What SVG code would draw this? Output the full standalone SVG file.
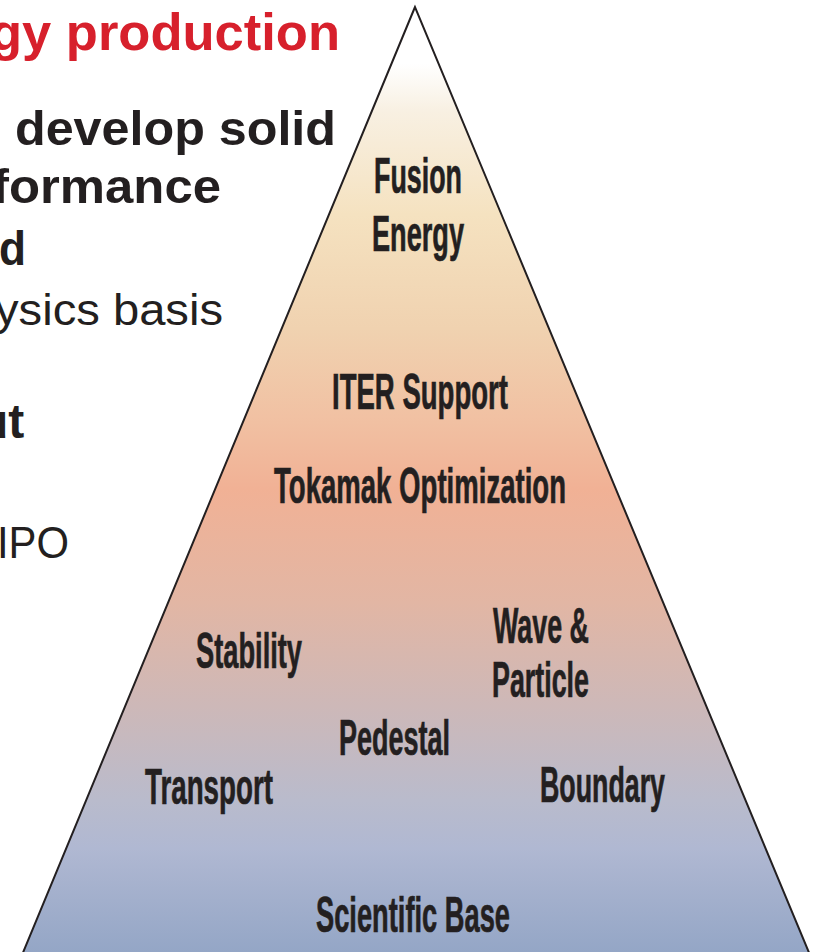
<svg xmlns="http://www.w3.org/2000/svg" width="815" height="952" viewBox="0 0 815 952">
  <defs>
    <!-- vertical colour ramp of the pyramid: white tip, sand, salmon, mauve, steel blue base -->
    <linearGradient id="pyramidFill" gradientUnits="userSpaceOnUse" x1="0" y1="7" x2="0" y2="952">
      <stop offset="0" stop-color="#ffffff"/>
      <stop offset="0.06" stop-color="#ffffff"/>
      <stop offset="0.11" stop-color="#f8f0e2"/>
      <stop offset="0.22" stop-color="#f5e2c0"/>
      <stop offset="0.34" stop-color="#f0d2b0"/>
      <stop offset="0.44" stop-color="#f1c0a2"/>
      <stop offset="0.51" stop-color="#f1b195"/>
      <stop offset="0.63" stop-color="#e2b6a4"/>
      <stop offset="0.74" stop-color="#cdb8b8"/>
      <stop offset="0.84" stop-color="#b9bbcc"/>
      <stop offset="0.89" stop-color="#b0b8d2"/>
      <stop offset="1" stop-color="#94a6c6"/>
    </linearGradient>
  </defs>
  <style>
    .pl { font-family: "Liberation Sans", Arial, sans-serif; font-weight: bold; font-size: 50px; fill: #231f20; stroke: #231f20; stroke-width: 0.7px; }
    .side { font-family: "Liberation Sans", Arial, sans-serif; fill: #231f20; }
    .sideB { font-weight: bold; font-size: 48px; }
    .sideR { font-weight: normal; font-size: 44px; }
    .title { font-family: "Liberation Sans", Arial, sans-serif; font-weight: bold; font-size: 52px; fill: #d7202c; }
  </style>

  <rect width="815" height="952" fill="#ffffff"/>

  <!-- bullet text on the left, running off the page edge -->
  <g id="side-text">
    <text class="title" x="-10" y="50" textLength="350" lengthAdjust="spacingAndGlyphs">gy production</text>
    <text class="side sideB" x="15" y="145" textLength="321" lengthAdjust="spacingAndGlyphs">develop solid</text>
    <text class="side sideB" x="-8" y="203" textLength="229" lengthAdjust="spacingAndGlyphs">formance</text>
    <text class="side sideB" x="-1" y="265" textLength="27" lengthAdjust="spacingAndGlyphs">d</text>
    <text class="side sideR" x="-5" y="325" textLength="228" lengthAdjust="spacingAndGlyphs">ysics basis</text>
    <text class="side sideB" x="-21" y="438">ut</text>
    <text class="side sideR" x="-3" y="558" textLength="72" lengthAdjust="spacingAndGlyphs">IPO</text>
  </g>

  <!-- pyramid body -->
  <g id="pyramid">
    <polygon points="415,7 22,955 810,955" fill="url(#pyramidFill)" stroke="#231f20" stroke-width="2" stroke-linejoin="miter"/>
  </g>

  <!-- tiers of the pyramid -->
  <g id="fusion-energy">
    <text class="pl" x="374" y="193" textLength="88" lengthAdjust="spacingAndGlyphs">Fusion</text>
    <text class="pl" x="372" y="251" textLength="92" lengthAdjust="spacingAndGlyphs">Energy</text>
  </g>
  <g id="iter-support">
    <text class="pl" x="332" y="409" textLength="176" lengthAdjust="spacingAndGlyphs">ITER Support</text>
  </g>
  <g id="tokamak-optimization">
    <text class="pl" x="274" y="503" textLength="292" lengthAdjust="spacingAndGlyphs">Tokamak Optimization</text>
  </g>
  <g id="stability">
    <text class="pl" x="196" y="668" textLength="106" lengthAdjust="spacingAndGlyphs">Stability</text>
  </g>
  <g id="wave-particle">
    <text class="pl" x="493" y="643" textLength="96" lengthAdjust="spacingAndGlyphs">Wave &amp;</text>
    <text class="pl" x="492" y="697" textLength="97" lengthAdjust="spacingAndGlyphs">Particle</text>
  </g>
  <g id="pedestal">
    <text class="pl" x="339" y="755" textLength="111" lengthAdjust="spacingAndGlyphs">Pedestal</text>
  </g>
  <g id="transport">
    <text class="pl" x="145" y="804" textLength="128" lengthAdjust="spacingAndGlyphs">Transport</text>
  </g>
  <g id="boundary">
    <text class="pl" x="540" y="802" textLength="125" lengthAdjust="spacingAndGlyphs">Boundary</text>
  </g>
  <g id="scientific-base">
    <text class="pl" x="316" y="932" textLength="194" lengthAdjust="spacingAndGlyphs">Scientific Base</text>
  </g>

  <!-- no connectors in this figure -->
  <g id="connectors"/>
</svg>
